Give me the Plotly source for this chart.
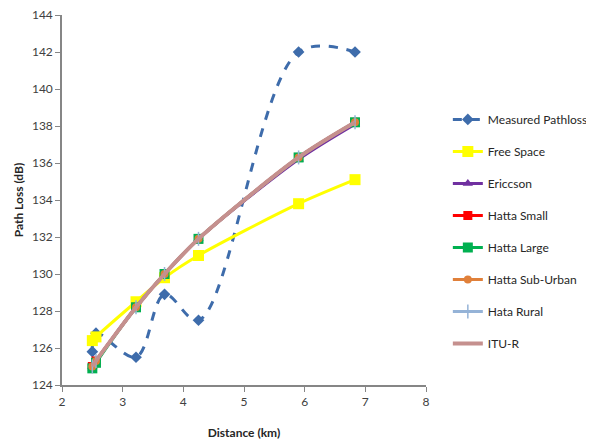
import plotly.graph_objects as go

distance = [2.5, 2.56, 3.22, 3.69, 4.25, 5.9, 6.83]
measured = [125.8, 126.8, 125.5, 128.9, 127.5, 142.0, 142.0]
free_space = [126.4, 126.6, 128.5, 129.8, 131.0, 133.8, 135.1]
ericcson = [125.0, 125.3, 128.2, 130.0, 131.9, 136.2, 138.1]
hatta_small = [125.0, 125.3, 128.2, 130.0, 131.9, 136.3, 138.2]
hatta_large = [124.9, 125.2, 128.2, 130.0, 131.9, 136.3, 138.2]
hatta_suburban = [125.0, 125.3, 128.2, 130.0, 131.9, 136.3, 138.2]
hata_rural = [125.0, 125.3, 128.2, 130.0, 131.9, 136.3, 138.2]
itu_r = [125.0, 125.3, 128.2, 130.0, 131.9, 136.3, 138.2]

series = [
    ("Measured Pathloss", measured, "#3E6CAB", dict(symbol="diamond", size=9), 3, "dash", 1.0),
    ("Free Space", free_space, "#FFFF00", dict(symbol="square", size=11), 3, "solid", 0.8),
    ("Ericcson", ericcson, "#7030A0", dict(symbol="triangle-up", size=9), 3, "solid", 0.8),
    ("Hatta Small", hatta_small, "#FF0000", dict(symbol="square", size=9), 3, "solid", 0.8),
    ("Hatta Large", hatta_large, "#00B050", dict(symbol="square", size=10), 3, "solid", 0.8),
    ("Hatta Sub-Urban", hatta_suburban, "#E0803A", dict(symbol="circle", size=8), 3, "solid", 0.8),
    ("Hata Rural", hata_rural, "#95B3D7", dict(symbol="line-ns-open", size=10, line=dict(width=1.5, color="#95B3D7")), 3, "solid", 0.8),
    ("ITU-R", itu_r, "#C5908E", dict(symbol="circle", size=1, opacity=0), 4, "solid", 0.8),
]

fig = go.Figure()
for i, (name, ys, color, marker, width, dash, smooth) in enumerate(series):
    m = dict(color=color)
    m.update(marker)
    fig.add_trace(go.Scatter(
        x=distance, y=ys, name=name, mode="lines+markers",
        line=dict(color=color, width=width, dash=dash, shape="spline", smoothing=smooth),
        marker=m, legendgroup=f"g{i}",
    ))

fig.update_layout(
    width=594, height=443,
    margin=dict(l=54, r=176, t=7, b=66, autoexpand=False),
    paper_bgcolor="white", plot_bgcolor="white",
    font=dict(family="Lato, Carlito, Calibri, sans-serif", size=12, color="#404040"),
    showlegend=True,
    legend=dict(x=1.06, xanchor="left", y=0.415, yanchor="middle",
                font=dict(size=12, color="#262626"), tracegroupgap=13,
                bgcolor="rgba(0,0,0,0)"),
    xaxis=dict(range=[2, 8], dtick=1, tick0=2, showgrid=False, zeroline=False,
               showline=True, linecolor="#868686", linewidth=1.5,
               ticks="outside", ticklen=5, tickcolor="#868686", automargin=False,
               ticklabeloverflow="allow",
               title=dict(text="<b>Distance (km)</b>", font=dict(size=12, color="#262626"), standoff=20)),
    yaxis=dict(range=[124, 144], dtick=2, tick0=124, showgrid=False, zeroline=False,
               showline=True, linecolor="#868686", linewidth=1.5,
               ticks="outside", ticklen=5, tickcolor="#868686", automargin=False,
               ticklabeloverflow="allow",
               title=dict(text="<b>Path Loss (dB)</b>", font=dict(size=12, color="#262626"), standoff=6)),
)

fig.write_html("out.html")
